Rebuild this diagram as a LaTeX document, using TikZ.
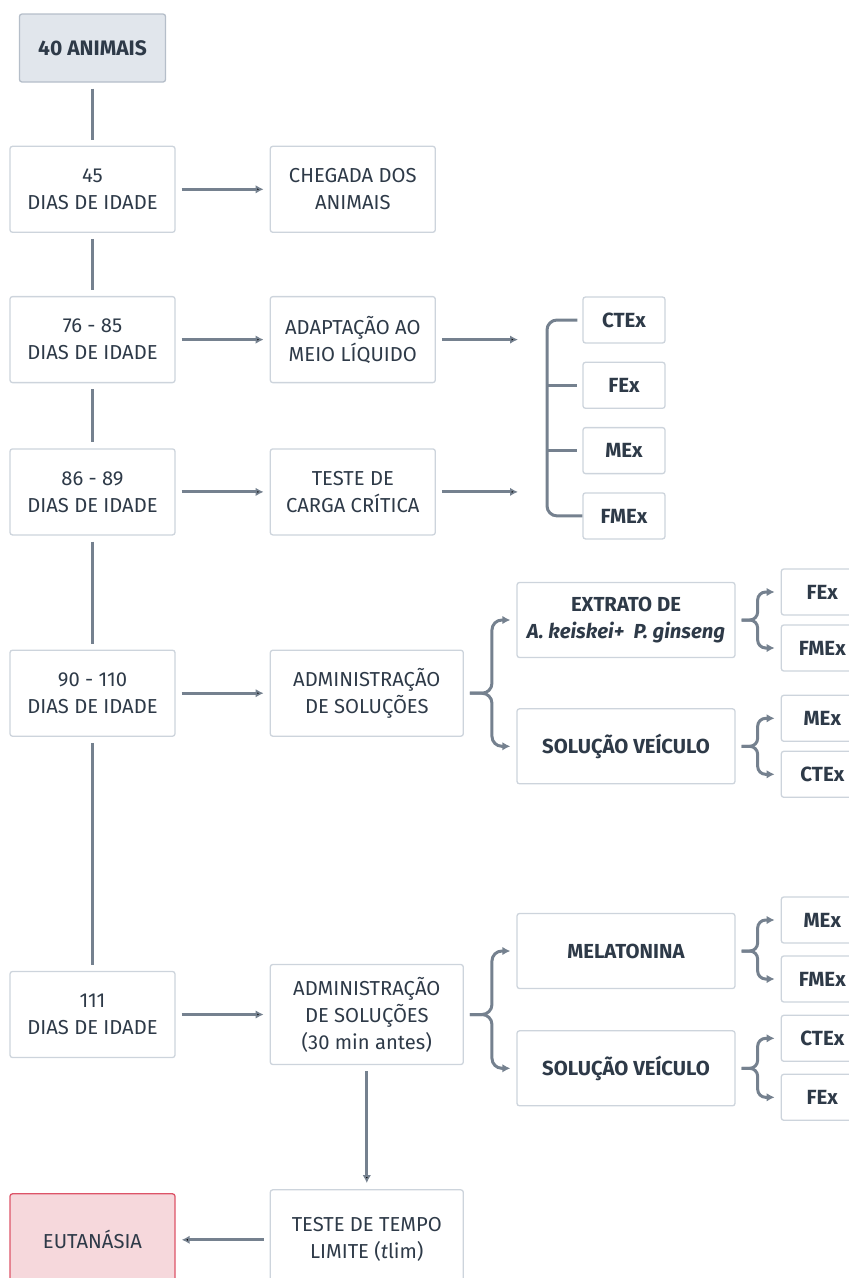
\documentclass[tikz,border=0pt]{standalone}
\usepackage{fontspec}
\setmainfont{Fira Sans}
\usetikzlibrary{arrows.meta, positioning, calc}

\definecolor{linkgray}{HTML}{75818F}
\definecolor{boxline}{HTML}{CDD4DC}
\definecolor{textdark}{HTML}{2E3A48}
\definecolor{headfill}{HTML}{E1E6EC}
\definecolor{headline}{HTML}{B5BEC9}
\definecolor{endfill}{HTML}{F6D8DC}
\definecolor{endline}{HTML}{DD5468}

\begin{document}
\begin{tikzpicture}[x=1pt, y=-1pt,
    stage/.style={draw=boxline, line width=1.3pt, rounded corners=2.5pt, fill=white, text=textdark,
      align=center, inner sep=0pt, minimum width=165pt, minimum height=86pt,
      font=\fontsize{20.2}{27}\selectfont},
    widestage/.style={stage, minimum width=193pt},
    group/.style={stage, minimum width=82pt, minimum height=46pt, font=\fontsize{20.5}{22}\selectfont\bfseries},
    treat/.style={stage, minimum width=218pt, minimum height=75pt, font=\fontsize{20.3}{27}\selectfont\bfseries},
    link/.style={draw=linkgray, line width=3pt, shorten <=6pt, shorten >=6pt},
    flow/.style={link, -{Latex[length=8pt, width=8.5pt]}},
    brace/.style={flow, rounded corners=10pt}]
    \useasboundingbox (0,0) rectangle (849,1278);

    \node[stage, fill=headfill, draw=headline, minimum width=146pt, minimum height=68pt,
      font=\fontsize{21}{24}\selectfont\bfseries] (animais) at (92.5,48) {40 ANIMAIS};
    \node[stage] (d45) [below=63pt of animais] {45\\DIAS DE IDADE};
    \node[stage] (d76) [below=63pt of d45] {76 - 85\\DIAS DE IDADE};
    \node[stage] (d86) [below=65pt of d76] {86 - 89\\DIAS DE IDADE};
    \node[stage] (d90) [below=114pt of d86] {90 - 110\\DIAS DE IDADE};
    \node[stage] (d111) [below=234pt of d90] {111\\DIAS DE IDADE};

    \node[stage] (chegada) [right=94pt of d45] {CHEGADA DOS\\ANIMAIS};
    \node[stage] (adapt) [right=94pt of d76] {ADAPTAÇÃO AO\\MEIO LÍQUIDO};
    \node[stage] (carga) [right=94pt of d86] {TESTE DE\\CARGA CRÍTICA};
    \node[widestage] (admin1) [right=94pt of d90] {ADMINISTRAÇÃO\\DE SOLUÇÕES};
    \node[widestage, minimum height=100pt] (admin2) [right=94pt of d111] {ADMINISTRAÇÃO\\DE SOLUÇÕES\\(30 min antes)};
    \node[widestage, minimum height=100pt] (tempo) [below=124pt of admin2] {TESTE DE TEMPO\\LIMITE (\textit{t}lim)};
    \node[stage, fill=endfill, draw=endline, minimum height=92pt] (eutanasia) [left=94pt of tempo] {EUTANÁSIA};

    \node[group] (ctex1) at (624,320) {CTEx};
    \node[group] (fex1) [below=18pt of ctex1] {FEx};
    \node[group] (mex1) [below=18pt of fex1] {MEx};
    \node[group] (fmex1) [below=18pt of mex1] {FMEx};
    \coordinate (brk) at (547,415);

    \node[treat] (extrato) at (626,620) {EXTRATO DE\\\textit{A. keiskei+~ P. ginseng}};
    \node[treat] (veic1) [below=50pt of extrato] {SOLUÇÃO VEÍCULO};
    \node[treat] (melat) at (626,951) {MELATONINA};
    \node[treat] (veic2) [below=41pt of melat] {SOLUÇÃO VEÍCULO};

    \node[group] (fex2) [right=45pt of extrato, yshift=28pt] {FEx};
    \node[group] (fmex2) [right=45pt of extrato, yshift=-28pt] {FMEx};
    \node[group] (mex2) [right=45pt of veic1, yshift=28pt] {MEx};
    \node[group] (ctex2) [right=45pt of veic1, yshift=-28pt] {CTEx};
    \node[group] (mex3) [right=45pt of melat, yshift=31pt] {MEx};
    \node[group] (fmex3) [right=45pt of melat, yshift=-28pt] {FMEx};
    \node[group] (ctex3) [right=45pt of veic2, yshift=30pt] {CTEx};
    \node[group] (fex3) [right=45pt of veic2, yshift=-29pt] {FEx};

    \draw[link] (animais) -- (d45);
    \draw[link] (d45) -- (d76);
    \draw[link] (d76) -- (d86);
    \draw[link] (d86) -- (d90);
    \draw[link] (d90) -- (d111);

    \path[flow]
    (d45) edge (chegada)
    (d76) edge (adapt)
    (d86) edge (carga)
    (d90) edge (admin1)
    (d111) edge (admin2)
    (admin2) edge (tempo)
    (tempo) edge (eutanasia)
    (adapt) edge[shorten >=29pt] (adapt -| brk)
    (carga) edge[shorten >=29pt] (carga -| brk);

    \draw[link, shorten <=5pt, shorten >=0pt, rounded corners=10pt] (ctex1.west) -| (brk) |- (fmex1.west);
    \draw[link, shorten <=0pt, shorten >=5pt] (brk |- fex1.west) -- (fex1.west);
    \draw[link, shorten <=0pt, shorten >=5pt] (brk |- mex1.west) -- (mex1.west);

    \draw[brace] (admin1.east) -- ++(28,0) |- (extrato.west);
    \draw[brace] (admin1.east) -- ++(28,0) |- (veic1.west);
    \draw[brace] (admin2.east) -- ++(28,0) |- (melat.west);
    \draw[brace] (admin2.east) -- ++(28,0) |- (veic2.west);

    \draw[brace, rounded corners=8pt] (extrato.east) -- ++(22,0) |- (fex2.west);
    \draw[brace, rounded corners=8pt] (extrato.east) -- ++(22,0) |- (fmex2.west);
    \draw[brace, rounded corners=8pt] (veic1.east) -- ++(22,0) |- (mex2.west);
    \draw[brace, rounded corners=8pt] (veic1.east) -- ++(22,0) |- (ctex2.west);
    \draw[brace, rounded corners=8pt] (melat.east) -- ++(22,0) |- (mex3.west);
    \draw[brace, rounded corners=8pt] (melat.east) -- ++(22,0) |- (fmex3.west);
    \draw[brace, rounded corners=8pt] (veic2.east) -- ++(22,0) |- (ctex3.west);
    \draw[brace, rounded corners=8pt] (veic2.east) -- ++(22,0) |- (fex3.west);
\end{tikzpicture}
\end{document}
